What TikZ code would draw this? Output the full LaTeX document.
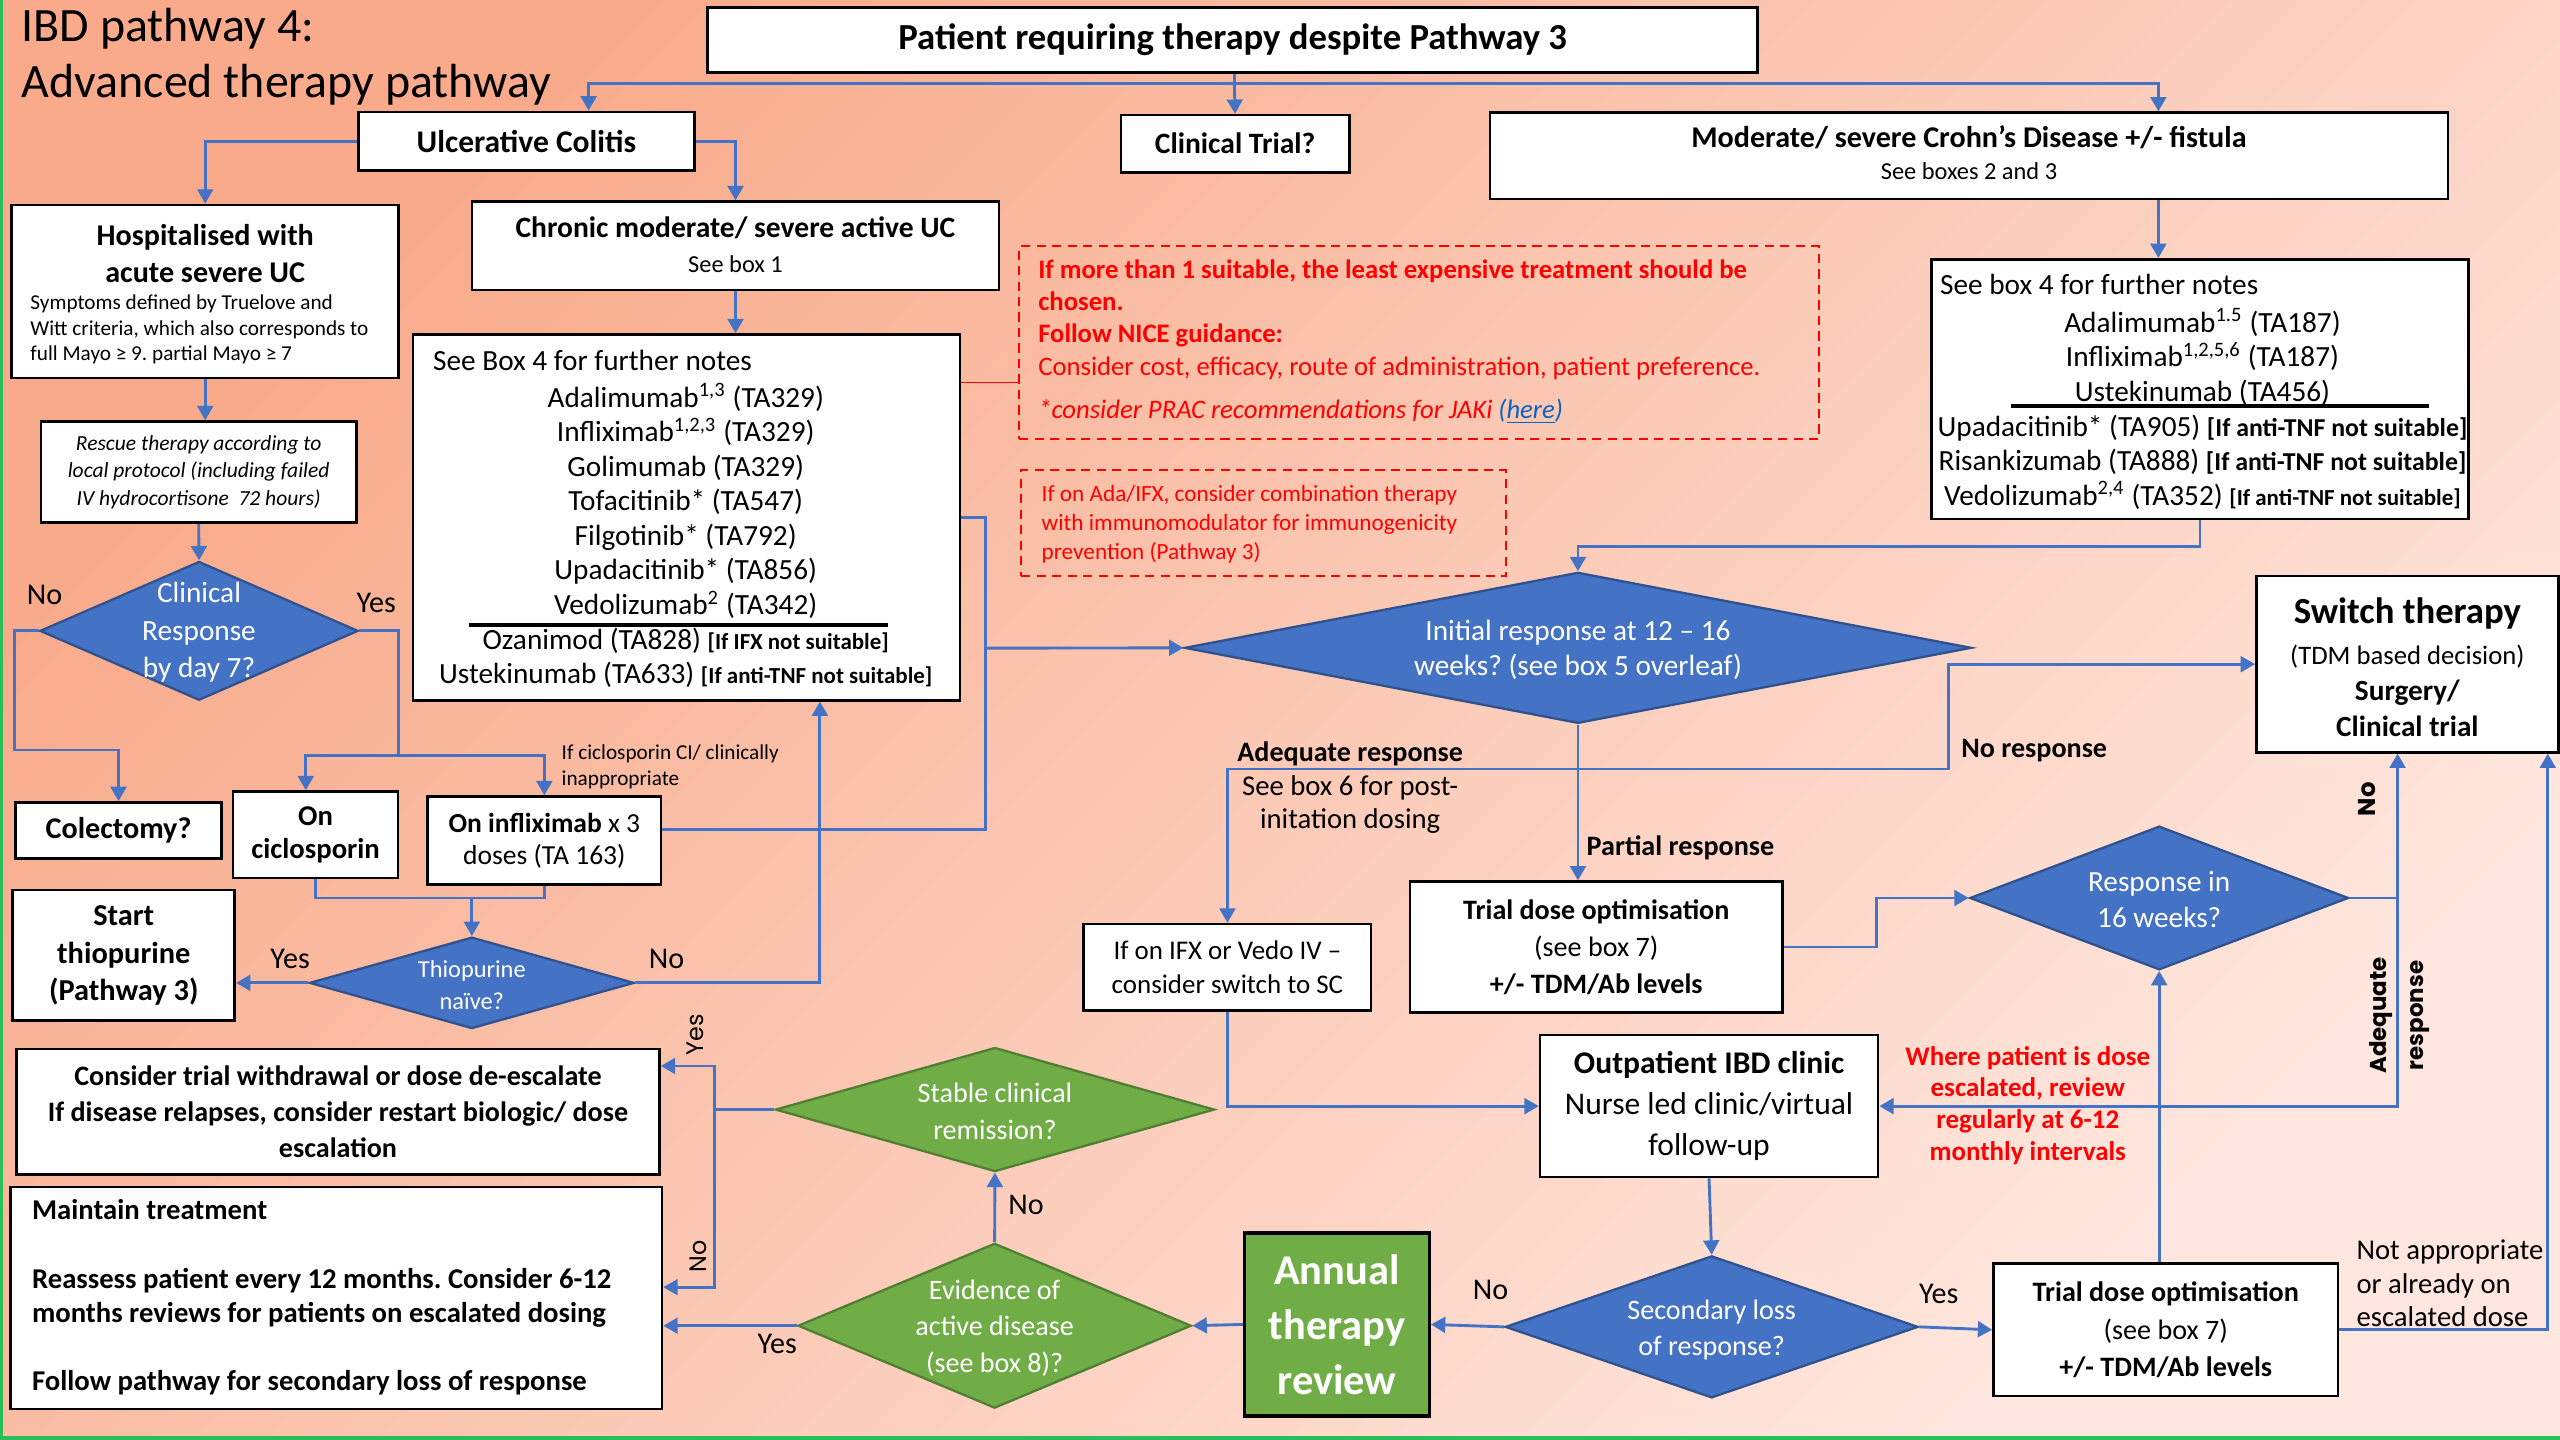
\documentclass[tikz,border=0pt]{standalone}
\usepackage{fontspec}
\setmainfont{Carlito}
\newfontfamily\rotfont{Poppins}
\usetikzlibrary{shapes.geometric, arrows.meta}
\frenchspacing

\definecolor{diablue}{HTML}{4472C4}
\definecolor{diaedge}{HTML}{2F528F}
\definecolor{diagreen}{HTML}{70AD47}
\definecolor{greenedge}{HTML}{507E32}
\definecolor{linkblue}{HTML}{4472C4}
\definecolor{bgtop}{HTML}{F8AA8A}
\definecolor{bgbot}{HTML}{FFE7DF}
\definecolor{framegreen}{HTML}{28BE5A}
\definecolor{hyper}{HTML}{0563C1}

\def\px{0.02cm}
\newcommand{\fsz}[2]{\fontsize{#1}{#2}\selectfont}

\tikzset{
  box/.style={draw=black, fill=white, line width=0.9pt, inner sep=0pt, align=center},
  sz/.style 2 args={minimum width=#1*\px, minimum height=#2*\px},
  bluedia/.style={diamond, draw=diaedge, fill=diablue, line width=0.8pt, inner sep=0pt},
  greendia/.style={diamond, draw=greenedge, fill=diagreen, line width=0.8pt, inner sep=0pt},
  wtxt/.style={text=white, align=center, inner sep=0pt},
  txt/.style={inner sep=0pt, align=center},
  yn/.style={inner sep=0pt, anchor=mid, font=\fsz{10.5}{12}},
  rotlbl/.style={inner sep=0pt, rotate=90, align=center},
  link/.style={draw=linkblue, line width=1pt},
  arr/.style={link, -{Triangle[width=5.5pt,length=5pt]}},
  rednote/.style={draw=red, dash pattern=on 3.2pt off 2.2pt, line width=0.7pt, inner sep=0pt},
}

\begin{document}
\begin{tikzpicture}[x=0.02cm, y=-0.02cm]
\useasboundingbox (0,0) rectangle (1568,882);
\shade[top color=bgtop, bottom color=bgbot, shading angle=45] (0,0) rectangle (1568,882);
\draw[framegreen, line width=1.3pt] (0.6,0) -- (0.6,880.8) -- (1568,880.8);

% title
\node[txt, anchor=base west, font=\fsz{16.7}{19}] (title1) at (13,25.5) {IBD pathway 4:};
\node[txt, anchor=base west, font=\fsz{16.7}{19}] (title2) at (13,60) {Advanced therapy pathway};

% top row
\node[box, sz={643}{40}, font=\bfseries\fsz{12.8}{15}] (top) at (755,24.5) {Patient requiring therapy despite Pathway 3};
\node[box, sz={206}{36}, font=\bfseries\fsz{11}{13}] (uc) at (322.5,86.5) {Ulcerative Colitis};
\node[box, sz={140}{35}, font=\bfseries\fsz{10.3}{12}] (trial) at (756.5,88) {Clinical Trial?};
\node[box, sz={587}{53}] (cd) at (1206,95.5) {};
\node[txt, anchor=mid, font=\bfseries\fsz{10.5}{12}] (cdt1) at (1206,86) {Moderate/ severe Crohn’s Disease +/- fistula};
\node[txt, anchor=mid, font=\fsz{8.5}{10}] (cdt2) at (1206,106) {See boxes 2 and 3};

\coordinate (tsplit) at (756,51);
\draw[link] (top.south -| tsplit) -- (tsplit);
\draw[arr] (tsplit) -| ([xshift=38*\px]uc.north);
\draw[arr] (tsplit) -- (trial.north);
\draw[arr] (tsplit) -| ([xshift=116*\px]cd.north);

% ulcerative colitis, chronic side
\node[box, sz={323}{54}] (chronic) at (450.5,150.5) {};
\node[txt, anchor=mid, font=\bfseries\fsz{10.3}{12}] (chronict1) at (450.5,141) {Chronic moderate/ severe active UC};
\node[txt, anchor=mid, font=\fsz{8.5}{10}] (chronict2) at (450.5,162.5) {See box 1};
\node[box, sz={335}{224}] (uclist) at (420.5,316.9) {};
\node[txt, anchor=mid west, font=\fsz{10.2}{12}] (uclisthead) at (265,222.5) {See Box 4 for further notes};
\node[txt, font=\fsz{10.2}{12.05}] (uclistt) at (420,328) {Adalimumab\textsuperscript{1,3} (TA329)\\Infliximab\textsuperscript{1,2,3} (TA329)\\Golimumab (TA329)\\Tofacitinib* (TA547)\\Filgotinib* (TA792)\\Upadacitinib* (TA856)\\Vedolizumab\textsuperscript{2} (TA342)\\Ozanimod (TA828) {\bfseries\fsz{8}{12}[If IFX not suitable]}\\Ustekinumab (TA633) {\bfseries\fsz{8}{12}[If anti-TNF not suitable]}};
\draw[line width=1.4pt] (287,383) -- (543.7,383);

\draw[arr] (uc.east) -| (chronic.north);
\draw[arr] (chronic.south) -- (chronic.south |- uclist.north);

% ulcerative colitis, acute side
\node[box, sz={237}{106}] (hosp) at (125.7,178.5) {};
\node[txt, font=\bfseries\fsz{10.5}{13}] (hospt1) at (125.7,155.5) {Hospitalised with\\acute severe UC};
\node[txt, anchor=west, align=left, font=\fsz{7.4}{8.9}] (hospt2) at (18.3,202) {Symptoms defined by Truelove and\\Witt criteria, which also corresponds to\\full Mayo ≥ 9. partial Mayo ≥ 7};
\node[box, sz={193}{62}, font=\itshape\fsz{7.5}{9.7}] (rescue) at (121.7,289.2) {Rescue therapy according to\\local protocol (including failed\\IV hydrocortisone\ \ 72 hours)};
\node[bluedia, sz={195}{85}] (crd) at (121.9,386.4) {};
\node[wtxt, font=\fsz{10.2}{13.2}] (crdt) at (121.9,387.3) {Clinical\\Response\\by day 7?};
\node[yn] (crdno) at (27.3,366) {No};
\node[yn] (crdyes) at (230.4,371) {Yes};

\node[box, sz={126}{34.5}, font=\bfseries\fsz{10.5}{12}] (colect) at (72.6,508.7) {Colectomy?};
\node[box, sz={101}{53}, font=\bfseries\fsz{10}{11.6}] (cic) at (193.3,511.3) {On\\ciclosporin};
\node[box, sz={143}{54}, font=\fsz{9.6}{11.4}] (ifx) at (333.4,514.9) {\textbf{On infliximab} x 3\\doses (TA 163)};
\node[txt, anchor=west, align=left, font=\fsz{7.4}{8.9}] (cicnote) at (343.7,469.6) {If ciclosporin CI/ clinically\\inappropriate};
\node[bluedia, sz={199}{56}] (thd) at (289,602) {};
\node[wtxt, font=\fsz{8.5}{11}] (thdt) at (289,603.3) {Thiopurine\\naïve?};
\node[box, sz={136}{80}, font=\bfseries\fsz{10.6}{13}] (thio) at (75.8,585.2) {Start\\thiopurine\\(Pathway 3)};
\node[yn] (thdyes) at (177.7,588.9) {Yes};
\node[yn] (thdno) at (408.2,588.9) {No};

\draw[arr] (uc.west) -| (hosp.north);
\draw[arr] (hosp.south) -- (hosp.south |- rescue.north);
\draw[arr] (rescue.south) -- (crd.north);
\draw[arr] (crd.west) -- ++(-14.6,0) -- ++(0,73) -| (colect.north);
\coordinate (cj) at (244,463);
\draw[link] (crd.east) -| (cj);
\draw[arr] (cj) -| ([xshift=-6*\px]cic.north);
\draw[arr] (cj) -| (ifx.north);
\coordinate (tj) at (289,550);
\draw[link] (cic.south) |- (tj);
\draw[link] (ifx.south) |- (tj);
\draw[arr] (tj) -- (thd.north);
\draw[arr] (thd.west) -- (thd.west -| thio.east);
\draw[arr] (thd.east) -| ([xshift=81.7*\px]uclist.south);

% notes
\node[rednote, sz={490}{118}] (rb1) at (869.2,209.9) {};
\node[txt, anchor=west, align=left, text=red, font=\fsz{9.3}{11.2}] (rb1t) at (635.6,209.5) {\textbf{If more than 1 suitable, the least expensive treatment should be}\\\textbf{chosen.}\\\textbf{Follow NICE guidance:}\\Consider cost, efficacy, route of administration, patient preference.\\[3.8pt]\textit{*consider PRAC recommendations for JAKi \textcolor{hyper}{(\underline{here})}}};
\coordinate (rbin) at ([yshift=-24.4*\px]rb1.west);
\draw[red, line width=0.6pt] (uclist.east |- rbin) -- (rbin);
\node[rednote, sz={297}{65}] (rb2) at (774,320.6) {};
\node[txt, anchor=west, align=left, text=red, font=\fsz{8.1}{10}] (rb2t) at (637.7,321.2) {If on Ada/IFX, consider combination therapy\\with immunomodulator for immunogenicity\\prevention (Pathway 3)};

% crohn's side
\node[box, sz={329}{159}] (cdlist) at (1347.5,238.3) {};
\node[txt, anchor=mid west, font=\fsz{10.2}{12}] (cdlisthead) at (1188,176) {See box 4 for further notes};
\node[txt, font=\fsz{10.2}{12.05}] (cdlistt) at (1349,250.5) {Adalimumab\textsuperscript{1.5} (TA187)\\Infliximab\textsuperscript{1,2,5,6} (TA187)\\Ustekinumab (TA456)\\Upadacitinib* (TA905) {\bfseries\fsz{9}{12}[If anti-TNF not suitable]}\\Risankizumab (TA888) {\bfseries\fsz{9}{12}[If anti-TNF not suitable]}\\Vedolizumab\textsuperscript{2,4} (TA352) {\bfseries\fsz{8}{12}[If anti-TNF not suitable]}};
\draw[line width=1.4pt] (1232,248.7) -- (1488,248.7);
\coordinate (cdo) at ([xshift=116*\px]cd.south);
\draw[arr] (cdo) -- (cdo |- cdlist.north);

% initial response
\node[bluedia, sz={482}{92.5}] (ird) at (966.5,396.8) {};
\node[wtxt, font=\fsz{10.2}{12.5}] (irdt) at (966.5,398) {Initial response at 12 – 16\\weeks? (see box 5 overleaf)};
\draw[arr] (cdlist.south) -- ++(0,16) -| (ird.north);
\coordinate (uj) at (603.4,397);
\draw[link] (uclist.east) -| (uj);
\draw[link] ([yshift=7*\px]ifx.east) -| (uj);
\draw[arr] (uj) -- (ird.west);

\node[box, sz={185}{108}] (switch) at (1474.5,406.8) {};
\node[txt, font=\fsz{9.3}{12.5}] (switcht) at (1474.5,408.5) {{\bfseries\fsz{12.8}{12.5}Switch therapy}\\[2pt](TDM based decision)\\{\bfseries\fsz{10.2}{12.5}Surgery/}\\{\bfseries\fsz{10.2}{12.5}Clinical trial}};
\node[box, sz={176}{53}, font=\fsz{9.4}{12}] (vedo) at (751.8,592.5) {If on IFX or Vedo IV –\\consider switch to SC};
\node[box, sz={228}{80}, font=\fsz{9.8}{12.9}] (tdo1) at (977.7,580) {\textbf{Trial dose optimisation}\\(see box 7)\\\textbf{+/- TDM/Ab levels}};

\coordinate (ij) at (966.5,471);
\draw[link] (ird.south) -- (ij);
\draw[arr] (ij) -| (vedo.north);
\draw[arr] (ij) -- (ij |- tdo1.north);
\draw[arr] (ij) -- ++(227,0) |- (switch.west);
\node[txt, anchor=mid, font=\bfseries\fsz{9.8}{11}] (adqlbl) at (827,462) {Adequate response};
\node[txt, font=\fsz{10}{11.6}] (adqnote) at (827,492.7) {See box 6 for post-\\initation dosing};
\node[txt, anchor=mid west, font=\bfseries\fsz{9.8}{11}] (partlbl) at (971.5,520) {Partial response};
\node[txt, anchor=mid west, font=\bfseries\fsz{9.8}{11}] (nolbl) at (1201,460) {No response};

% response in 16 weeks
\node[bluedia, sz={232}{88}] (r16) at (1322.5,550) {};
\node[wtxt, font=\fsz{10.2}{12.7}] (r16t) at (1322.5,551) {Response in\\16 weeks?};
\draw[arr] (tdo1.east) -- ++(56.7,0) |- (r16.west);

% outpatient follow-up
\node[box, sz={207}{87}, font=\fsz{11}{14.2}] (opd) at (1046.8,677.5) {\textbf{Outpatient IBD clinic}\\Nurse led clinic/virtual\\follow-up};
\node[txt, text=red, font=\bfseries\fsz{9.4}{11}] (escnote) at (1242,677) {Where patient is dose\\escalated, review\\regularly at 6-12\\monthly intervals};
\draw[arr] (vedo.south) |- (opd.west);
\coordinate (rj) at (1468.5,550);
\draw[link] (r16.east) -- (rj);
\draw[arr] (rj) -- (rj |- switch.south);
\draw[arr] (rj) |- (opd.east);
\node[rotlbl, font=\rotfont\bfseries\fsz{8.5}{10}] (r16no) at (1450,489.5) {No};
\node[rotlbl, font=\rotfont\bfseries\fsz{8}{13}] (adqrot) at (1469.5,622) {Adequate\\response};

% secondary loss of response
\node[bluedia, sz={253}{87}] (sld) at (1048.4,812.7) {};
\node[wtxt, font=\fsz{9.8}{12.7}] (sldt) at (1048.4,814.6) {Secondary loss\\of response?};
\node[box, sz={211}{81}, font=\fsz{9.8}{13.2}] (tdo2) at (1326.5,814.5) {\textbf{Trial dose optimisation}\\(see box 7)\\\textbf{+/- TDM/Ab levels}};
\node[txt, anchor=west, align=left, font=\fsz{10}{11.6}] (notapp) at (1443,786) {Not appropriate\\or already on\\escalated dose};
\node[box, fill=diagreen, line width=1.2pt, sz={113}{112}, text=white, font=\bfseries\fsz{14.8}{19.2}] (annual) at (818.9,811.2) {Annual\\therapy\\review};
\node[yn] (sldyes) at (1187.5,794) {Yes};
\node[yn] (sldno) at (912.9,792) {No};
\draw[arr] (opd.south) -- (sld.north);
\draw[arr] (sld.east) -- (tdo2.west);
\draw[arr] (sld.west) -- (annual.east);
\draw[arr] (tdo2.north -| r16.south) -- (r16.south);
\draw[arr] (tdo2.east) -| ([xshift=86*\px]switch.south);

% annual review
\node[greendia, sz={241}{101}] (evd) at (609.2,812) {};
\node[wtxt, font=\fsz{9.8}{12.8}] (evdt) at (609.2,813.5) {Evidence of\\active disease\\(see box 8)?};
\node[greendia, sz={269}{76}] (std) at (609.4,679.6) {};
\node[wtxt, font=\fsz{9.8}{12.8}] (stdt) at (609.4,680.8) {Stable clinical\\remission?};
\node[box, sz={394}{77}, font=\bfseries\fsz{9.8}{12.6}] (cons) at (207,681) {Consider trial withdrawal or dose de-escalate\\If disease relapses, consider restart biologic/ dose\\escalation};
\node[box, sz={399}{136}] (maint) at (206,795) {};
\node[txt, anchor=west, align=left, font=\bfseries\fsz{10}{11.8}] (maintt) at (19.3,794.6) {Maintain treatment\\[12pt]Reassess patient every 12 months. Consider 6-12\\months reviews for patients on escalated dosing\\[12pt]Follow pathway for secondary loss of response};
\node[yn] (evdno) at (628.5,739.8) {No};
\node[yn] (evdyes) at (476,824.8) {Yes};
\node[rotlbl, font=\rotfont\fsz{8.3}{10}] (consyes) at (425.6,633.9) {Yes};
\node[rotlbl, font=\rotfont\fsz{8.3}{10}] (maintno) at (428,769.7) {No};

\draw[arr] (annual.west) -- (evd.east);
\draw[arr] (evd.north) -- (std.south);
\draw[arr] (evd.west) -- (evd.west -| maint.east);
\coordinate (sj) at (437.8,679.6);
\draw[link] (std.west) -- (sj);
\draw[arr] (sj) |- ([yshift=28.1*\px]cons.east);
\draw[arr] (sj) |- ([yshift=6.6*\px]maint.east);
\end{tikzpicture}
\end{document}
